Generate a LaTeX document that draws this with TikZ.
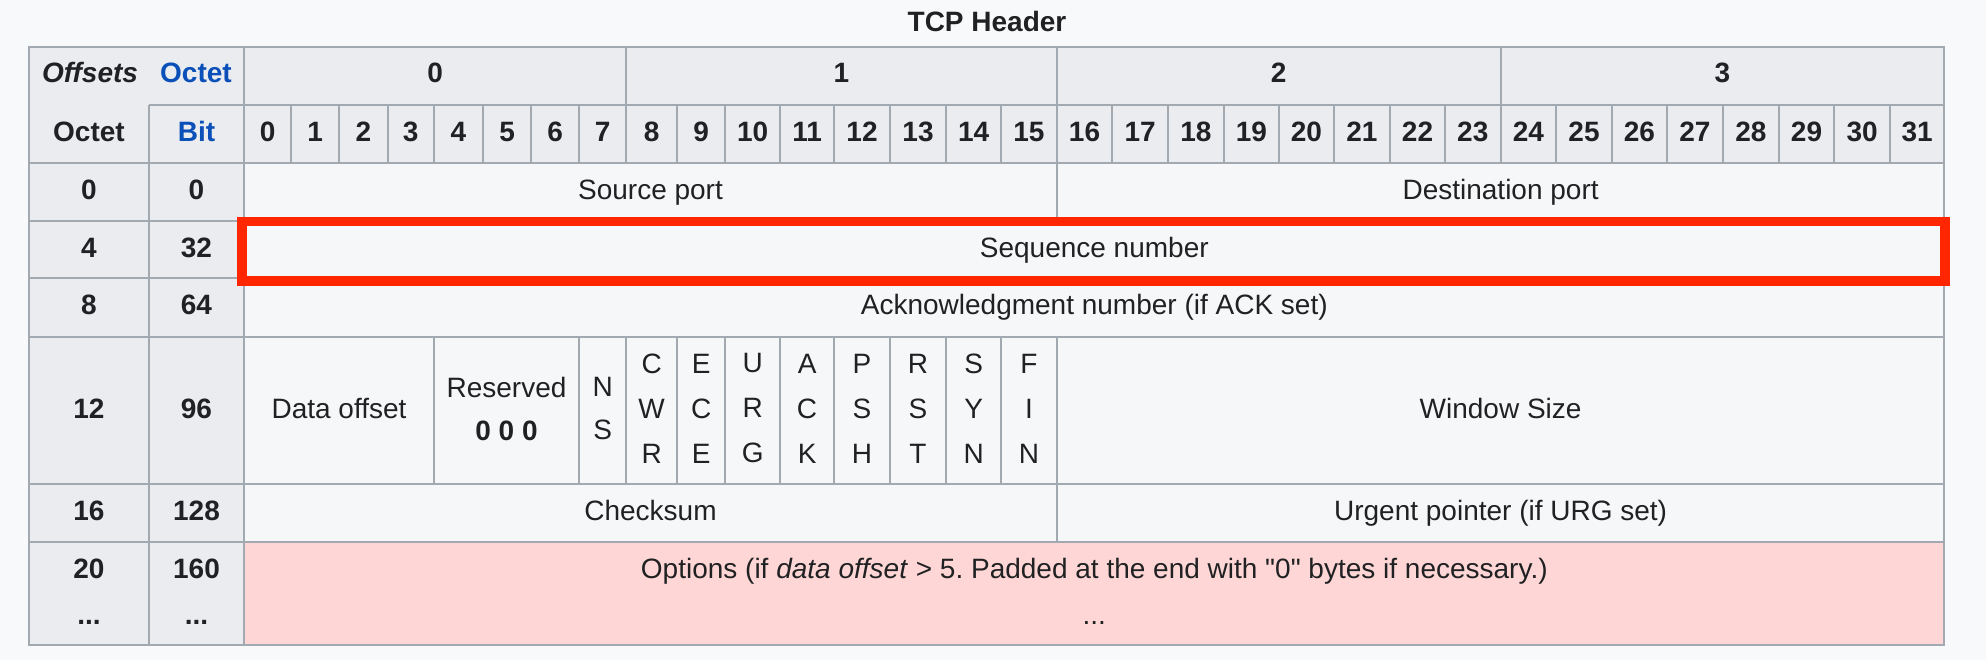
\documentclass[tikz,border=0pt]{standalone}
\usepackage{fontspec}
\setmainfont{Liberation Sans}[Ligatures=TeXOff]
\usepackage{tikz}
\frenchspacing

\definecolor{pagebg}{HTML}{F8F9FA}
\definecolor{headbg}{HTML}{EAECF0}
\definecolor{cellbg}{HTML}{F6F7F8}
\definecolor{optbg}{HTML}{FFD6D6}
\definecolor{gridgray}{HTML}{A2A9B1}
\definecolor{hlred}{HTML}{FF2600}
\definecolor{ink}{HTML}{202122}
\definecolor{linkblue}{HTML}{0B4FB8}

\tikzset{
    txt/.style={font={\fontsize{28}{45}\selectfont}, text=ink, text height=20pt, text depth=0pt, inner sep=0pt},
    hd/.style={font={\fontsize{28}{45}\selectfont\bfseries}, text=ink, text height=20pt, text depth=0pt, inner sep=0pt},
    lnk/.style={hd, text=linkblue},
    flag/.style={font={\fontsize{28}{45}\selectfont}, text=ink, align=center, inner sep=0pt},
    flagtight/.style={font={\fontsize{28}{43}\selectfont}, text=ink, align=center, inner sep=0pt},
    grid/.style={draw=gridgray, line width=2pt},
    hl/.style={draw=hlred, line width=9.5pt},
}

\begin{document}
\begin{tikzpicture}[x=1pt, y=-1pt]
            \useasboundingbox (0,0) rectangle (1986,660);
            \fill[pagebg] (0,0) rectangle (1986,660);
            \fill[headbg] (29,46.7) rectangle (1944.4,163.3);
            \fill[headbg] (29,163.3) rectangle (244.2,645);
            \fill[cellbg] (244.2,163.3) rectangle (1944.4,541.7);
            \fill[optbg] (244.2,541.7) rectangle (1944.4,645);
            \foreach \y in {163.3,220.7,278.3,336.7,484,541.7}
                \draw[grid] (29,\y) -- (1944.4,\y);
            \draw[grid] (148.7,105) -- (1944.4,105);
            \draw[grid] (148.7,105) -- (148.7,645);
            \draw[grid] (244.2,46.7) -- (244.2,645);
            \foreach \x in {626.2,1056.8,1500.7}
                \draw[grid] (\x,46.7) -- (\x,105);
            \foreach \x in {291.1,339.3,387.5,433.9,483.0,531.2,579.1,626.2,677.1,725.2,780.1,834.1,889.9,946.1,1001.0,1056.8,1112.2,1168.0,1223.8,1279.0,1333.8,1390.0,1444.9,1500.7,1556.1,1611.9,1666.8,1723.0,1778.8,1834.2,1890.0}
                \draw[grid] (\x,105) -- (\x,163.3);
            \draw[grid] (1056.8,163.3) -- (1056.8,220.7);
            \draw[grid] (1056.8,336.7) -- (1056.8,541.7);
            \foreach \x in {433.9,579.1,626.2,677.1,725.2,780.1,834.1,889.9,946.1,1001.0}
                \draw[grid] (\x,336.7) -- (\x,484);
            \draw[grid] (29,46.7) rectangle (1944.4,645);
            \draw[hl] (241.8,221.4) rectangle (1945,281);
            \node[hd] (title) at (987,21.7) {TCP Header};
            \node[hd, font={\fontsize{28}{45}\selectfont\bfseries\itshape}] (offsets) at (90,73) {Offsets};
            \node[lnk] (octetlink) at (196,73) {Octet};
            \node[hd] (octet0) at (435.2,73) {0};
            \node[hd] (octet1) at (841.5,73) {1};
            \node[hd] (octet2) at (1278.7,73) {2};
            \node[hd] (octet3) at (1722.5,73) {3};
            \node[hd] (octet) at (89,131.3) {Octet};
            \node[lnk] (bitlink) at (196.5,131.3) {Bit};
            \foreach \i/\x in {0/267.7,1/315.2,2/363.4,3/410.7,4/458.5,5/507.1,6/555.2,7/602.7,8/651.7,9/701.2,10/752.7,11/807.1,12/862.0,13/918.0,14/973.6,15/1028.9,16/1084.5,17/1140.1,18/1195.9,19/1251.4,20/1306.4,21/1361.9,22/1417.5,23/1472.8,24/1528.4,25/1584.0,26/1639.4,27/1694.9,28/1750.9,29/1806.5,30/1862.1,31/1917.2}
                \node[hd] (bit\i) at (\x,131.3) {\i};
            \node[hd] (o0) at (89,189.6) {0};
            \node[hd] (b0) at (196.5,189.6) {0};
            \node[hd] (o4) at (89,247.2) {4};
            \node[hd] (b32) at (196.5,247.2) {32};
            \node[hd] (o8) at (89,304.8) {8};
            \node[hd] (b64) at (196.5,304.8) {64};
            \node[hd] (o12) at (89,408.5) {12};
            \node[hd] (b96) at (196.5,408.5) {96};
            \node[hd] (o16) at (89,510.5) {16};
            \node[hd] (b128) at (196.5,510.5) {128};
            \node[hd] (o20) at (89,568.3) {20};
            \node[hd] (b160) at (196.5,568.3) {160};
            \node[hd] (odots) at (89,614) {...};
            \node[hd] (bdots) at (196.5,614) {...};
            \node[txt] (src) at (650.5,189.6) {Source port};
            \node[txt] (dst) at (1500.6,189.6) {Destination port};
            \node[txt] (seq) at (1094.3,247.2) {Sequence number};
            \node[txt] (ack) at (1094.3,304.8) {Acknowledgment number (if ACK set)};
            \node[txt] (doff) at (339,408.5) {Data offset};
            \node[flagtight] (rsv) at (506.5,408.5) {Reserved\\\textbf{0 0 0}};
            \node[flagtight] (ns) at (602.7,408.5) {N\\S};
            \node[flag] (cwr) at (651.7,408.5) {C\\W\\R};
            \node[flag] (ece) at (701.2,408.5) {E\\C\\E};
            \node[flag] (urg) at (752.7,408.5) {U\\R\\G};
            \node[flag] (ackf) at (807.1,408.5) {A\\C\\K};
            \node[flag] (psh) at (862.0,408.5) {P\\S\\H};
            \node[flag] (rst) at (918.0,408.5) {R\\S\\T};
            \node[flag] (syn) at (973.6,408.5) {S\\Y\\N};
            \node[flag] (fin) at (1028.9,408.5) {F\\I\\N};
            \node[txt] (win) at (1500.6,408.5) {Window Size};
            \node[txt] (chk) at (650.5,510.5) {Checksum};
            \node[txt] (urgp) at (1500.6,510.5) {Urgent pointer (if URG set)};
            \node[txt] (opt) at (1094.3,568.3) {Options (if \textit{data offset} > 5. Padded at the end with "0" bytes if necessary.)};
            \node[txt] (optdots) at (1094.3,614) {...};
        \end{tikzpicture}
\end{document}
